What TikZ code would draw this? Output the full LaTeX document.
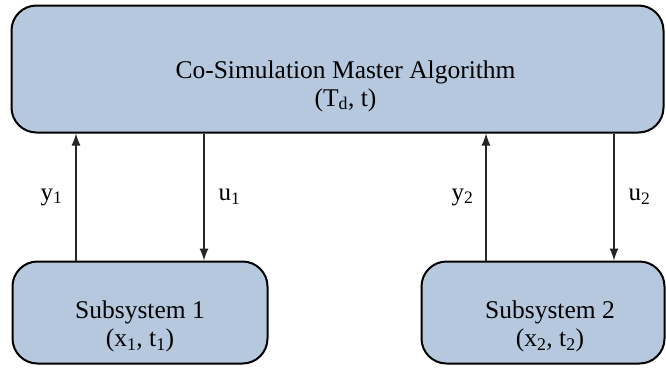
\documentclass[tikz,border=0pt]{standalone}
\usepackage{fontspec}
\setmainfont{Liberation Serif}
\usetikzlibrary{arrows.meta}
\usetikzlibrary{positioning}

\definecolor{boxblue}{HTML}{B5C8DE}
\tikzset{
  block/.style={draw=black,line width=2pt,fill=boxblue,rounded corners=25pt},
  blocktext/.style={align=center,inner sep=0pt,font=\fontsize{25.5}{28}\selectfont},
  link/.style={line width=1.2pt,draw=black!85,-{Latex[length=12pt,width=9pt]}},
  sig/.style={font=\fontsize{25}{28}\selectfont,inner sep=0pt}
}

\begin{document}
\begin{tikzpicture}[x=1pt,y=-1pt]
  \useasboundingbox (0,0) rectangle (666,368);
  \node[block,minimum width=652,minimum height=127] (master) at (337.5,69) {};
  \node[block,minimum width=255,minimum height=102] (sub1) at (140,312.5) {};
  \node[block,minimum width=243,minimum height=102] (sub2) at (543,312.5) {};
  % box texts
  \node[blocktext] (mastertxt) at ([xshift=8,yshift=-17]master.center)
    {Co-Simulation Master Algorithm\\(T\textsubscript{d}, t)};
  \node[blocktext] (sub1txt) at ([yshift=-14]sub1.center)
    {Subsystem 1\\(x\textsubscript{1}, t\textsubscript{1})};
  \node[blocktext] (sub2txt) at ([xshift=7,yshift=-14]sub2.center)
    {Subsystem 2\\(x\textsubscript{2}, t\textsubscript{2})};

  \draw[link] ([xshift=-64]sub1.north) -- ([xshift=-64]sub1.north |- master.south)
    node[sig,midway,left=13pt] {y\textsubscript{1}};
  \draw[link] ([xshift=64]sub1.north |- master.south) -- ([xshift=64]sub1.north)
    node[sig,midway,right=14pt] {u\textsubscript{1}};
  \draw[link] ([xshift=-57]sub2.north) -- ([xshift=-57]sub2.north |- master.south)
    node[sig,midway,left=12pt] {y\textsubscript{2}};
  \draw[link] ([xshift=71]sub2.north |- master.south) -- ([xshift=71]sub2.north)
    node[sig,midway,right=14pt] {u\textsubscript{2}};
\end{tikzpicture}
\end{document}
